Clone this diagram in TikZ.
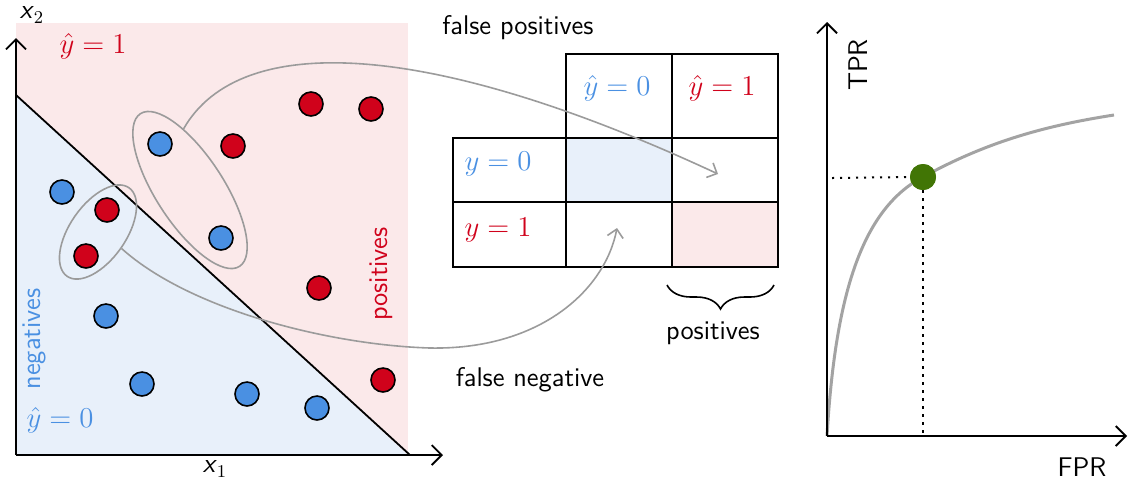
\documentclass[tikz,border=0pt]{standalone}
\usepackage{amsmath}
\usetikzlibrary{arrows.meta,shapes.geometric,decorations.pathreplacing}
\definecolor{cblue}{HTML}{4A90E2}
\definecolor{cred}{HTML}{D0021B}
\definecolor{bluefill}{HTML}{E8F0FA}
\definecolor{pinkfill}{HTML}{FBE9EA}
\definecolor{cgreen}{HTML}{417505}
\definecolor{arrowgray}{HTML}{9B9B9B}
\definecolor{curvegray}{HTML}{A3A3A3}
\begin{document}
\begin{tikzpicture}[x=0.5pt,y=-0.5pt,
  font=\sffamily\fontsize{13.5}{15}\selectfont,
  mathlab/.style={font=\fontsize{14.6}{16}\selectfont},
  bpt/.style={circle,draw=black,line width=0.8pt,fill=cblue,minimum size=12pt,inner sep=0},
  rpt/.style={circle,draw=black,line width=0.8pt,fill=cred,minimum size=12pt,inner sep=0},
  axisarrow/.style={line width=0.9pt,-{Straight Barb[length=5pt,width=10pt]}},
  conn/.style={draw=arrowgray,line width=0.8pt,-{Straight Barb[length=4pt,width=8pt]}},
  ell/.style={draw=arrowgray,ellipse,inner sep=0,line width=0.8pt},
  cell/.style={draw=black,line width=1pt,rectangle,inner sep=0},
  dots/.style={line width=1pt,dash pattern=on 1.1pt off 2.9pt},
]
\useasboundingbox (0,0) rectangle (1129,479);

% ---------- left panel ----------
\fill[pinkfill] (16,23) rectangle (408,455);
\fill[bluefill] (16,95) -- (16,455) -- (408,455) -- cycle;
\draw[line width=0.9pt] (16,95) -- (410,455);
\coordinate (O) at (16,455);
\draw[axisarrow] (O) -- (16,38);
\draw[axisarrow] (O) -- (443,455);
\node (x2lab) at (32,15) {$\textsf{\textit{x}}_2$};
\node (x1lab) at (215,469) {$\textsf{\textit{x}}_1$};
\node[mathlab,text=cred] (yh1) at (93,46) {$\hat{y} = 1$};
\node[mathlab,text=cblue] (yh0) at (60,420) {$\hat{y} = 0$};
\node[text=cblue,rotate=90] (neg) at (34,339) {negatives};
\node[text=cred,rotate=90] (pos) at (381,274) {positives};

% ellipses
\node[ell,minimum width=54pt,minimum height=28pt,rotate=55] (small) at (98,232) {};
\node[ell,minimum width=91pt,minimum height=34pt,rotate=-57] (big) at (190,190) {};

% points
\node[bpt] (b1) at (160,144) {};
\node[bpt] (b2) at (62,192) {};
\node[bpt] (b3) at (221,238) {};
\node[bpt] (b4) at (106,316) {};
\node[bpt] (b5) at (142,384) {};
\node[bpt] (b6) at (247,394) {};
\node[bpt] (b7) at (317,408) {};
\node[rpt] (r1) at (311,104) {};
\node[rpt] (r2) at (371,109) {};
\node[rpt] (r3) at (233,146) {};
\node[rpt] (r4) at (107,210) {};
\node[rpt] (r5) at (86,256) {};
\node[rpt] (r6) at (319,288) {};
\node[rpt] (r7) at (383,380) {};

% ---------- confusion matrix ----------
\node[cell,minimum width=53pt,minimum height=42pt] (c01) at (619,96) {};
\node[cell,minimum width=53pt,minimum height=42pt] (c02) at (725,96) {};
\node[cell,minimum width=56.5pt,minimum height=32pt] (c10) at (509.5,170) {};
\node[cell,fill=bluefill,minimum width=53pt,minimum height=32pt] (c11) at (619,170) {};
\node[cell,minimum width=53pt,minimum height=32pt] (c12) at (725,170) {};
\node[cell,minimum width=56.5pt,minimum height=32.5pt] (c20) at (509.5,234.5) {};
\node[cell,minimum width=53pt,minimum height=32.5pt] (c21) at (619,234.5) {};
\node[cell,fill=pinkfill,minimum width=53pt,minimum height=32.5pt] (c22) at (725,234.5) {};
\node[mathlab,text=cblue] (lyh0) at (617,88) {$\hat{y} = 0$};
\node[mathlab,text=cred] (lyh1) at (722,88) {$\hat{y} = 1$};
\node[mathlab,text=cblue] (ly0) at (498,164) {$y = 0$};
\node[mathlab,text=cred] (ly1) at (498,230) {$y = 1$};
\node (fp) at (518,28) {false positives};
\node (fn) at (530,380) {false negative};
\draw[decorate,decoration={brace,amplitude=12pt,mirror},line width=0.8pt] (667,285) -- (774,285);
\node (posb) at (713,333) {positives};

% connectors
\coordinate (fpend) at (718,174);
\coordinate (fnend) at (617,228);
\draw[conn] (big.153) .. controls (240,30) and (430,40) .. (fpend);
\draw[conn] (small.south) .. controls (190,310) and (330,345) .. (430,348)
  .. controls (540,350) and (605,290) .. (fnend);

% ---------- ROC ----------
\coordinate (R) at (827,436);
\node[circle,fill=cgreen,minimum size=13pt,inner sep=0] (dot) at (923,177) {};
\draw[line width=1.5pt,curvegray] (R) .. controls (835,300) and (860,210) .. (dot.center)
  .. controls (990,140) and (1050,125) .. (1114,115);
\node[circle,fill=cgreen,minimum size=13pt,inner sep=0] at (dot) {};
\draw[dots] (832,178) -- (dot.west);
\draw[dots] (dot.south) -- (dot.south |- R);
\draw[axisarrow] (R) -- (827,22);
\draw[axisarrow] (R) -- (1127,436);
\node[rotate=90] (tpr) at (858,65) {TPR};
\node (fpr) at (1082,467) {FPR};
\end{tikzpicture}
\end{document}
